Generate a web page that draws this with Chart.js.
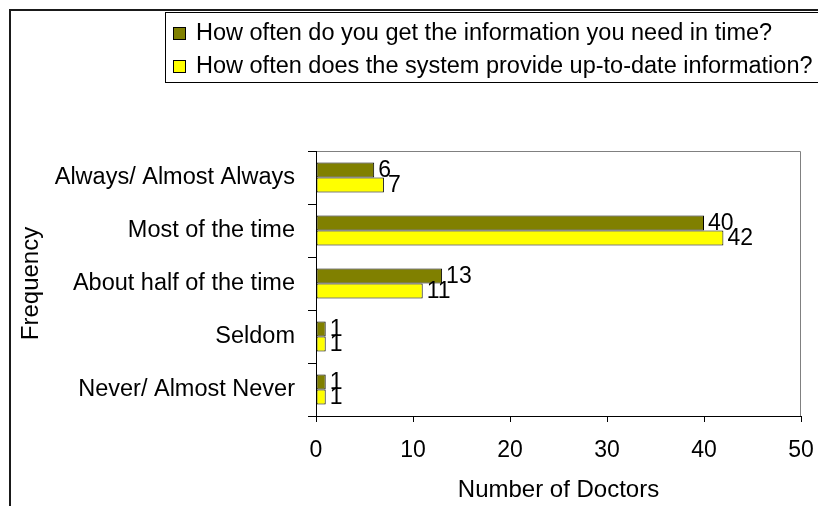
<!DOCTYPE html>
<html><head><meta charset="utf-8">
<script src="https://cdn.jsdelivr.net/npm/chart.js@4/dist/chart.umd.min.js"></script>
<style>html,body{margin:0;padding:0;background:#fff;overflow:hidden}canvas{display:block}</style>
</head><body>
<canvas id="c" width="818" height="506"></canvas>
<script>
const categories = ['Always/ Almost Always', 'Most of the time', 'About half of the time', 'Seldom', 'Never/ Almost Never'];
const seriesNames = ['How often do you get the information you need in time?', 'How often does the system provide up-to-date information?'];
const inTimeValues = [6, 40, 13, 1, 1];
const upToDateValues = [7, 42, 11, 1, 1];
const xTickValues = [0, 10, 20, 30, 40, 50];
const yAxisTitle = 'Frequency';
const xAxisTitle = 'Number of Doctors';

const FONT = '"Liberation Sans", Arial, sans-serif';
Chart.defaults.font.family = FONT;
Chart.defaults.font.size = 23;
Chart.defaults.color = '#000';

const framePlugin = {
  id: 'frame',
  beforeDraw(chart) {
    const ctx = chart.ctx;
    ctx.save();
    ctx.fillStyle = '#fff';
    ctx.fillRect(0, 0, chart.width, chart.height);
    ctx.fillStyle = '#1a1a1a';
    ctx.fillRect(9, 9, 2, chart.height - 9);
    ctx.fillRect(9, 9, chart.width - 9, 2);
    const a = chart.chartArea;
    ctx.strokeStyle = '#808080';
    ctx.lineWidth = 1;
    ctx.beginPath();
    ctx.moveTo(a.left, a.top + 0.5);
    ctx.lineTo(a.right - 0.5, a.top + 0.5);
    ctx.lineTo(a.right - 0.5, a.bottom);
    ctx.stroke();
    ctx.restore();
  },
  afterDraw(chart) {
    const ctx = chart.ctx;
    ctx.save();
    ctx.strokeStyle = '#000';
    ctx.lineWidth = 1;
    ctx.fillStyle = '#fff';
    ctx.fillRect(166, 13, 700, 69);
    ctx.strokeRect(165.5, 12.5, 700, 70);
    ctx.font = '23.5px ' + FONT;
    ctx.textBaseline = 'middle';
    ctx.textAlign = 'left';
    chart.data.datasets.forEach((ds, i) => {
      const cy = 33 + 33 * i;
      ctx.fillStyle = ds.backgroundColor;
      ctx.fillRect(173, cy - 6, 12, 12);
      ctx.strokeStyle = '#000';
      ctx.strokeRect(173.5, cy - 5.5, 12, 12);
      ctx.fillStyle = '#000';
      ctx.fillText(ds.label, 196, cy + 1);
    });
    ctx.restore();
  }
};

const valueLabels = {
  id: 'valueLabels',
  afterDatasetsDraw(chart) {
    const ctx = chart.ctx;
    ctx.save();
    ctx.font = '23px ' + FONT;
    ctx.fillStyle = '#000';
    ctx.textAlign = 'left';
    ctx.textBaseline = 'middle';
    chart.data.datasets.forEach((ds, i) => {
      chart.getDatasetMeta(i).data.forEach((el, j) => {
        ctx.fillText(String(ds.data[j]), el.x + 4, el.y + 1);
      });
    });
    ctx.restore();
  }
};

new Chart(document.getElementById('c'), {
  type: 'bar',
  data: {
    labels: categories,
    datasets: [
      { label: seriesNames[0], data: inTimeValues, backgroundColor: '#808000', borderColor: '#000', borderWidth: 1, borderSkipped: false },
      { label: seriesNames[1], data: upToDateValues, backgroundColor: '#FFFF00', borderColor: '#000', borderWidth: 1, borderSkipped: false }
    ]
  },
  options: {
    indexAxis: 'y',
    responsive: false,
    animation: false,
    devicePixelRatio: 1,
    events: [],
    layout: { padding: { top: 151, left: 12, right: 17, bottom: 0 } },
    datasets: { bar: { categoryPercentage: 0.566, barPercentage: 1 } },
    plugins: { legend: { display: false }, tooltip: { enabled: false } },
    scales: {
      x: {
        type: 'linear', min: 0, max: 50,
        afterBuildTicks: s => { s.ticks = xTickValues.map(v => ({ value: v })); },
        afterFit: s => { s.height = 90; s.paddingLeft = 0; s.paddingRight = 0; },
        grid: { drawOnChartArea: false, drawTicks: true, tickLength: 6, tickColor: '#000' },
        border: { color: '#000', width: 1 },
        ticks: { padding: 15, color: '#000', font: { size: 23 } },
        title: { display: true, text: xAxisTitle, color: '#000', font: { size: 24 }, padding: { top: 0, bottom: 1 } }
      },
      y: {
        type: 'category',
        afterFit: s => { s.width = 304; s.paddingTop = 0; s.paddingBottom = 0; },
        grid: { drawOnChartArea: false, drawTicks: true, tickLength: 8, tickColor: '#000', offset: true },
        border: { color: '#000', width: 1 },
        ticks: { padding: 13, color: '#000', font: { size: 23.5 } },
        title: { display: true, text: yAxisTitle, color: '#000', font: { size: 24 }, padding: { top: 5, bottom: 0 } }
      }
    }
  },
  plugins: [framePlugin, valueLabels]
});
</script>
</body></html>
